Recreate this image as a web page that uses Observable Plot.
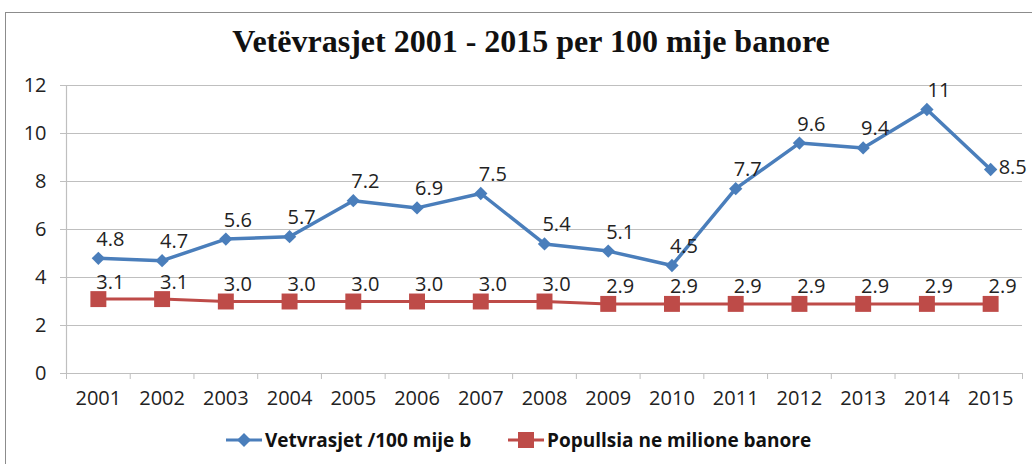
<!DOCTYPE html>
<html>
<head>
<meta charset="utf-8">
<script src="https://cdn.jsdelivr.net/npm/d3@7"></script>
<script src="https://cdn.jsdelivr.net/npm/@observablehq/plot@0.6"></script>
<style>
  html, body { margin: 0; padding: 0; background: #fff; width: 1032px; height: 464px; overflow: hidden; }
  #frame { position: absolute; left: 5px; top: 12px; width: 1100px; height: 500px; border: 1.5px solid #8c8c8c; box-sizing: border-box; }
  #title { position: absolute; left: 0; width: 1062px; top: 23px; text-align: center; font-family: "Liberation Serif", serif; font-weight: bold; font-size: 32px; color: #111; }
  #chart { position: absolute; left: 0; top: 70px; }
  #legend { position: absolute; top: 427px; left: 0; width: 1032px; font-family: "Open Sans", sans-serif; font-weight: bold; font-size: 19px; color: #111; }
  .item { position: absolute; top: 0; display: flex; align-items: center; height: 26px; }
  .item svg { margin-right: 3px; }
</style>
</head>
<body>
<div id="frame"></div>
<div id="title">Vetëvrasjet 2001 - 2015 per 100 mije banore</div>
<div id="chart"></div>
<div id="legend"></div>
<script>
const years = [2001, 2002, 2003, 2004, 2005, 2006, 2007, 2008, 2009, 2010, 2011, 2012, 2013, 2014, 2015];
const suicides = [4.8, 4.7, 5.6, 5.7, 7.2, 6.9, 7.5, 5.4, 5.1, 4.5, 7.7, 9.6, 9.4, 11, 8.5];
const population = [3.1, 3.1, 3.0, 3.0, 3.0, 3.0, 3.0, 3.0, 2.9, 2.9, 2.9, 2.9, 2.9, 2.9, 2.9];
const seriesNames = ["Vetvrasjet /100 mije b", "Popullsia ne milione banore"];
const yTicks = [0, 2, 4, 6, 8, 10, 12];

const blue = "#4a7ebb", red = "#be4b48", grid = "#bfbfbf";
const sData = years.map((y, i) => ({year: y, v: suicides[i]}));
const pData = years.map((y, i) => ({year: y, v: population[i]}));
const fmt1 = v => Number.isInteger(v) && v >= 10 ? String(v) : v.toFixed(1);
const xDomain = [years[0] - 0.5, years[years.length - 1] + 0.5];
const boundaries = d3.range(xDomain[0], xDomain[1] + 0.01, 1);

const chart = Plot.plot({
  width: 1032,
  height: 345,
  marginTop: 15,
  marginBottom: 42,
  marginLeft: 66,
  marginRight: 10,
  style: {fontFamily: "Open Sans, sans-serif", fontSize: "20px", color: "#222", background: "transparent"},
  x: {domain: xDomain, type: "linear"},
  y: {domain: [0, 12]},
  marks: [
    Plot.gridY(yTicks, {stroke: grid, strokeOpacity: 1, strokeWidth: 1.2}),
    Plot.axisY(yTicks, {tickSize: 6, tickPadding: 14, stroke: grid, strokeOpacity: 1, label: null, tickFormat: d => String(d), fill: "#222"}),
    Plot.ruleX([xDomain[0]], {stroke: grid, strokeWidth: 1.2}),
    Plot.axisX(boundaries, {tickSize: 6, stroke: grid, strokeOpacity: 1, tickFormat: () => "", label: null}),
    Plot.axisX(years, {tickSize: 0, tickPadding: 17, tickFormat: d => String(d), label: null, fill: "#222"}),
    Plot.lineY(pData, {x: "year", y: "v", stroke: red, strokeWidth: 3}),
    Plot.dot(pData, {x: "year", y: "v", symbol: "square", r: 9, fill: red, stroke: null}),
    Plot.lineY(sData, {x: "year", y: "v", stroke: blue, strokeWidth: 3.5}),
    Plot.dot(sData, {x: "year", y: "v", symbol: "diamond2", r: 6, fill: blue, stroke: null}),
    Plot.text(pData, {x: "year", y: "v", text: d => fmt1(d.v), dx: 12, dy: -17, fill: "#222"}),
    Plot.text(sData.slice(0, -1), {x: "year", y: "v", text: d => fmt1(d.v), dx: 12, dy: -19, fill: "#222"}),
    Plot.text(sData.slice(-1), {x: "year", y: "v", text: d => fmt1(d.v), dx: 8, dy: -2, textAnchor: "start", fill: "#222"})
  ]
});
document.getElementById("chart").appendChild(chart);

// legend
const legend = document.getElementById("legend");
const items = [
  {name: seriesNames[0], color: blue, left: 226, shape: "diamond"},
  {name: seriesNames[1], color: red, left: 508, shape: "square"}
];
for (const it of items) {
  const div = document.createElement("div");
  div.className = "item";
  div.style.left = it.left + "px";
  const ns = "http://www.w3.org/2000/svg";
  const svg = document.createElementNS(ns, "svg");
  svg.setAttribute("width", 36); svg.setAttribute("height", 20);
  const line = document.createElementNS(ns, "line");
  line.setAttribute("x1", 0); line.setAttribute("x2", 36); line.setAttribute("y1", 10); line.setAttribute("y2", 10);
  line.setAttribute("stroke", it.color); line.setAttribute("stroke-width", 3);
  svg.appendChild(line);
  if (it.shape === "diamond") {
    const p = document.createElementNS(ns, "path");
    p.setAttribute("d", "M18,3L25,10L18,17L11,10Z"); p.setAttribute("fill", it.color);
    svg.appendChild(p);
  } else {
    const r = document.createElementNS(ns, "rect");
    r.setAttribute("x", 10); r.setAttribute("y", 2); r.setAttribute("width", 16); r.setAttribute("height", 16); r.setAttribute("fill", it.color);
    svg.appendChild(r);
  }
  div.appendChild(svg);
  const span = document.createElement("span");
  span.textContent = it.name;
  div.appendChild(span);
  legend.appendChild(div);
}
</script>
</body>
</html>
